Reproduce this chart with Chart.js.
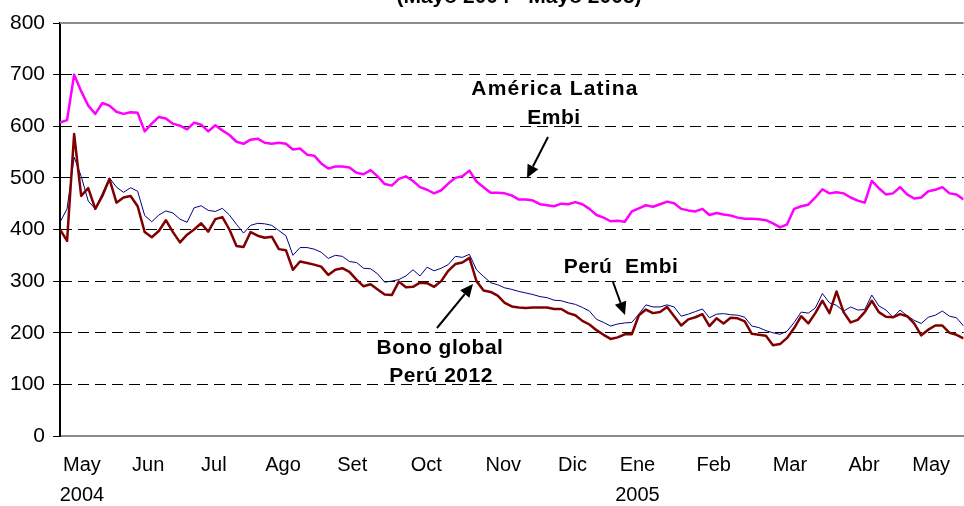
<!DOCTYPE html>
<html lang="es">
<head>
<meta charset="utf-8">
<title>Spreads Mayo 2004 - Mayo 2005</title>
<script src="https://cdn.jsdelivr.net/npm/chart.js@4.4.1/dist/chart.umd.min.js"></script>
<style>
  html, body { margin: 0; padding: 0; background: #fff; }
  #grafico { display: block; }
</style>
</head>
<body>
<canvas id="grafico" width="964" height="506"></canvas>
<script>
/* ===== Spreads: América Latina Embi, Perú Embi, Bono global Perú 2012 ===== */

// puntos básicos, una observación cada ~3 días hábiles
const latinoamerica = [
  607, 612, 700, 668, 640, 624, 645, 640, 628, 624, 627, 626, 590, 605, 618, 615, 605, 601, 594, 607,
  603, 590, 602, 592, 583, 570, 566, 574, 576, 568, 566, 568, 566, 555, 557, 545, 543, 528, 518, 522,
  522, 520, 510, 507, 515, 503, 488, 485, 498, 503, 494, 482, 477, 470, 476, 489, 500, 503, 514, 493,
  482, 471, 471, 470, 466, 458, 458, 456, 449, 447, 445, 450, 449, 453, 449, 440, 428, 423, 416, 417,
  415, 435, 441, 447, 444, 449, 454, 451, 440, 437, 435, 440, 428, 432, 429, 427, 423, 421, 421, 420,
  418, 412, 404, 410, 440, 445, 448, 462, 478, 470, 472, 470, 462, 456, 452, 494, 480, 468, 470, 482,
  468, 460, 462, 474, 477, 482, 470, 468, 458
];
const peruEmbi = [
  414, 440, 540, 503, 455, 440, 470, 500, 482, 472, 481, 474, 427, 415, 428, 436, 432, 420, 414, 442,
  446, 437, 435, 441, 428, 410, 393, 408, 412, 411, 408, 398, 388, 350, 365, 365, 362, 356, 344, 350,
  348, 338, 336, 325, 324, 314, 298, 300, 303, 310, 322, 310, 327, 320, 325, 332, 348, 346, 352, 322,
  309, 297, 293, 287, 284, 280, 277, 274, 270, 268, 263, 262, 258, 255, 249, 242, 226, 220, 213, 217,
  219, 220, 236, 254, 250, 250, 254, 250, 232, 236, 241, 246, 229, 236, 237, 235, 234, 230, 213, 210,
  204, 200, 197, 203, 220, 240, 238, 248, 276, 258, 253, 242, 250, 244, 245, 273, 252, 244, 230, 244,
  233, 224, 218, 230, 234, 242, 232, 229, 213
];
const bonoGlobal = [
  400, 378, 585, 465, 480, 440, 465, 498, 452, 462, 465, 445, 395, 385, 397, 418, 395, 375, 390, 400,
  412, 396, 420, 424, 400, 368, 366, 395, 388, 384, 386, 362, 360, 322, 338, 335, 332, 328, 312, 322,
  325, 318, 303, 290, 294, 284, 274, 273, 299, 288, 289, 297, 296, 289, 300, 320, 333, 336, 345, 300,
  282, 279, 272, 258, 251, 249, 248, 249, 249, 249, 246, 246, 238, 234, 223, 216, 205, 196, 188, 191,
  197, 197, 234, 245, 238, 240, 250, 232, 214, 226, 230, 236, 213, 228, 218, 229, 228, 222, 198, 196,
  194, 176, 178, 190, 209, 232, 218, 238, 262, 238, 280, 240, 220, 225, 240, 262, 240, 231, 230, 236,
  232, 218, 195, 206, 214, 214, 200, 196, 189
];

// etiquetas del eje X y su posición (en número de observación)
const meses = ['May', 'Jun', 'Jul', 'Ago', 'Set', 'Oct', 'Nov', 'Dic', 'Ene', 'Feb', 'Mar', 'Abr', 'May'];
const anios = ['2004', '', '', '', '', '', '', '', '2005', '', '', '', ''];
const posMeses = [3.1, 12.5, 21.8, 31.6, 41.4, 51.9, 62.8, 72.6, 81.8, 92.6, 103.4, 113.9, 123.4];

const indices = latinoamerica.map((_, i) => i);

const titulo = '(Mayo 2004 - Mayo 2005)';
const notas = [
  { texto: 'América Latina', x: 555, y: 95, espacio: '1.2px' },
  { texto: 'Embi', x: 554, y: 124, espacio: '0.5px' },
  { texto: 'Perú  Embi', x: 621, y: 273, espacio: '0.5px' },
  { texto: 'Bono global', x: 440, y: 354, espacio: '0.5px' },
  { texto: 'Perú 2012', x: 441, y: 382, espacio: '0.5px' }
];
const flechas = [
  { desde: [548, 137], hasta: [527, 178] },
  { desde: [437, 328], hasta: [473, 284] },
  { desde: [613, 282], hasta: [625, 315] }
];

Chart.defaults.font.family = "'Liberation Sans', Arial, sans-serif";
Chart.defaults.color = '#000';

const marco = {
  id: 'marco',
  beforeDatasetsDraw(chart) {
    const { ctx, chartArea: a } = chart;
    ctx.save();
    ctx.strokeStyle = '#8c8c8c';
    ctx.lineWidth = 2;
    ctx.beginPath();
    ctx.moveTo(a.left, a.top);
    ctx.lineTo(a.right, a.top);
    ctx.stroke();
    ctx.restore();
  },
  afterDraw(chart) {
    const ctx = chart.ctx;
    ctx.save();
    ctx.fillStyle = '#000';
    ctx.textAlign = 'center';
    ctx.textBaseline = 'alphabetic';
    ctx.font = "bold 21px 'Liberation Sans', Arial, sans-serif";
    ctx.fillText(titulo, 519, 3);
    notas.forEach(n => {
      ctx.letterSpacing = n.espacio;
      ctx.fillText(n.texto, n.x, n.y);
    });

    ctx.strokeStyle = '#000';
    ctx.lineWidth = 2;
    flechas.forEach(f => {
      const [x1, y1] = f.desde, [x2, y2] = f.hasta;
      const ang = Math.atan2(y2 - y1, x2 - x1);
      const largo = 13, ancho = 6;
      const bx = x2 - largo * Math.cos(ang), by = y2 - largo * Math.sin(ang);
      ctx.beginPath();
      ctx.moveTo(x1, y1);
      ctx.lineTo(bx, by);
      ctx.stroke();
      ctx.beginPath();
      ctx.moveTo(x2, y2);
      ctx.lineTo(bx + ancho * Math.sin(ang), by - ancho * Math.cos(ang));
      ctx.lineTo(bx - ancho * Math.sin(ang), by + ancho * Math.cos(ang));
      ctx.closePath();
      ctx.fill();
    });
    ctx.restore();
  }
};

new Chart(document.getElementById('grafico'), {
  type: 'line',
  data: {
    labels: indices,
    datasets: [
      { label: 'Bono global Perú 2012', data: bonoGlobal, borderColor: '#800000', borderWidth: 2.5, order: 0 },
      { label: 'Perú Embi', data: peruEmbi, borderColor: '#000080', borderWidth: 1, order: 1 },
      { label: 'América Latina Embi', data: latinoamerica, borderColor: '#ff00ff', borderWidth: 2.5, order: 2 }
    ]
  },
  options: {
    responsive: false,
    animation: false,
    devicePixelRatio: 1,
    layout: { padding: { top: 23, right: 0, bottom: 0, left: 0 } },
    elements: { point: { radius: 0 }, line: { tension: 0, borderJoinStyle: 'round' } },
    plugins: { legend: { display: false }, tooltip: { enabled: false } },
    scales: {
      x: {
        type: 'linear',
        min: 0,
        max: indices.length - 1,
        afterBuildTicks: eje => { eje.ticks = posMeses.map(v => ({ value: v })); },
        afterFit: eje => { eje.height = 70; },
        grid: { display: false, drawTicks: false },
        border: { color: '#8c8c8c', width: 2 },
        ticks: {
          autoSkip: false,
          maxRotation: 0,
          padding: 14,
          font: { size: 20, lineHeight: 1.5 },
          callback: (v, i) => anios[i] ? [meses[i], anios[i]] : meses[i]
        }
      },
      y: {
        min: 0,
        max: 800,
        afterFit: eje => { eje.width = 60; },
        ticks: { stepSize: 100, padding: 8, font: { size: 21 } },
        grid: {
          color: c => (c.tick && (c.tick.value === 0 || c.tick.value === 800)) ? 'rgba(0,0,0,0)' : '#000',
          tickColor: '#000',
          tickLength: 7,
          lineWidth: 1
        },
        border: { color: '#000', width: 2, dash: [11, 6] }
      }
    }
  },
  plugins: [marco]
});
</script>
</body>
</html>
